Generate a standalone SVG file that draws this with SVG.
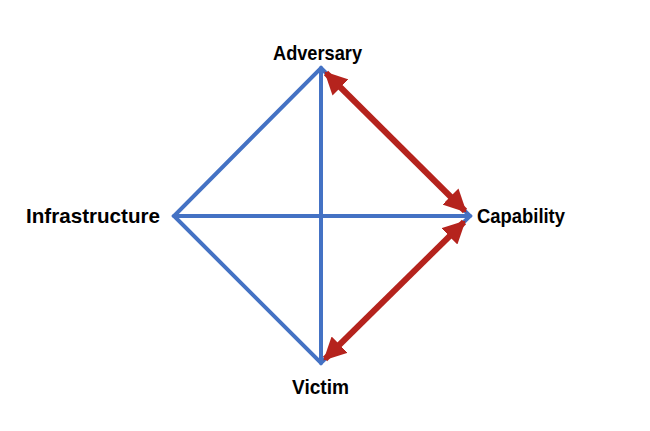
<svg xmlns="http://www.w3.org/2000/svg" width="650" height="431" viewBox="0 0 650 431">
<style>
.lbl{font-family:"Liberation Sans",Arial,sans-serif;font-weight:bold;font-size:21px;fill:#000}
.blue{stroke:#4472C4;stroke-width:4;fill:none;stroke-linecap:round}
.red{stroke:#B5231D;stroke-width:6;fill:none}
</style>
<defs>
<marker id="ah" viewBox="0 0 10 10" refX="9" refY="5" markerWidth="3.8" markerHeight="3.8" orient="auto-start-reverse" markerUnits="strokeWidth">
<path d="M0,0 L10,5 L0,10 z" fill="#B5231D"/>
</marker>
</defs>
<rect width="650" height="431" fill="#fff"/>
<g id="connectors">
<path class="blue" d="M321,68 L470,216 L321,363 L174,216 Z"/>
<line class="blue" x1="321" y1="68" x2="321" y2="363"/>
<line class="blue" x1="174" y1="216" x2="470" y2="216"/>
<line class="red" x1="326" y1="73" x2="465" y2="211" marker-start="url(#ah)" marker-end="url(#ah)"/>
<line class="red" x1="464" y1="222" x2="325" y2="359" marker-start="url(#ah)" marker-end="url(#ah)"/>
</g>
<g id="adversary"><text class="lbl" x="273" y="60" textLength="89" lengthAdjust="spacingAndGlyphs">Adversary</text></g>
<g id="capability"><text class="lbl" x="477" y="223" textLength="88" lengthAdjust="spacingAndGlyphs">Capability</text></g>
<g id="infrastructure"><text class="lbl" x="26" y="223" textLength="134" lengthAdjust="spacingAndGlyphs">Infrastructure</text></g>
<g id="victim"><text class="lbl" x="292" y="394" textLength="57" lengthAdjust="spacingAndGlyphs">Victim</text></g>
</svg>
